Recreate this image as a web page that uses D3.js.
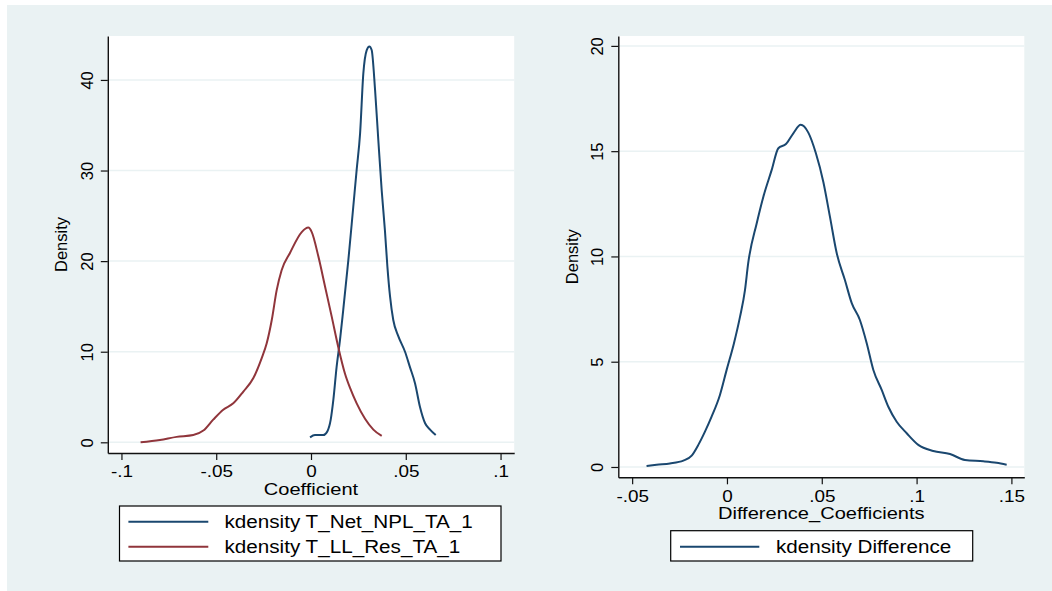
<!DOCTYPE html>
<html>
<head>
<meta charset="utf-8">
<script src="https://cdn.jsdelivr.net/npm/d3@7"></script>
<style>
  body { margin: 0; background: #ffffff; }
  text { font-family: "Liberation Sans", Arial, sans-serif; fill: #000; }
</style>
</head>
<body>
<svg id="chart" width="1052" height="591"></svg>
<script>
// kdensity T_Net_NPL_TA_1
var nplX = [-0.0005, 0.0021, 0.0065, 0.0086, 0.0104, 0.0118, 0.0135, 0.0153, 0.017, 0.0197, 0.0223, 0.0241, 0.0259, 0.0276, 0.0294, 0.0308, 0.032, 0.0338, 0.0355, 0.0373, 0.039, 0.0403, 0.0417, 0.0434, 0.0461, 0.0496, 0.0522, 0.0549, 0.0575, 0.0602, 0.0628, 0.0658];
var nplY = [0.55, 0.8, 0.8, 1.2, 2.5, 4.7, 8.3, 11.3, 14.6, 20.1, 26.0, 30.1, 34.1, 40.7, 43.3, 43.7, 43.3, 38.9, 33.4, 27.8, 23.4, 19.4, 16.1, 13.5, 11.7, 10.0, 8.3, 6.5, 3.9, 2.1, 1.4, 0.8];

// kdensity T_LL_Res_TA_1
var llX = [-0.0899, -0.0797, -0.0709, -0.0621, -0.0568, -0.0516, -0.0463, -0.041, -0.0357, -0.0304, -0.026, -0.0234, -0.0207, -0.0181, -0.0155, -0.0111, -0.0049, -0.0014, 0.0004, 0.0039, 0.0074, 0.0109, 0.0144, 0.0179, 0.0206, 0.0241, 0.0285, 0.0329, 0.0373];
var llY = [0, 0.25, 0.6, 0.8, 1.3, 2.5, 3.6, 4.3, 5.6, 7.1, 9.3, 10.9, 13.5, 16.8, 19.0, 20.9, 23.2, 23.7, 23.2, 20.5, 17.2, 13.9, 10.5, 7.6, 6.0, 4.3, 2.6, 1.4, 0.7];

// kdensity Difference
var diffX = [-0.0424, -0.0371, -0.0301, -0.023, -0.0186, -0.0151, -0.0116, -0.0081, -0.0037, -0.0002, 0.0037, 0.0069, 0.0095, 0.0112, 0.0157, 0.0192, 0.0236, 0.0271, 0.0311, 0.035, 0.0389, 0.0429, 0.0469, 0.0508, 0.0543, 0.0579, 0.0622, 0.0658, 0.0701, 0.0737, 0.0772, 0.0816, 0.0851, 0.0895, 0.0948, 0.1009, 0.1088, 0.1176, 0.1255, 0.1352, 0.1422, 0.1475];
var diffY = [0.05, 0.11, 0.17, 0.3, 0.54, 1.05, 1.68, 2.39, 3.42, 4.6, 5.88, 7.14, 8.4, 9.68, 11.58, 12.84, 14.11, 15.14, 15.34, 15.85, 16.25, 15.88, 14.9, 13.55, 11.89, 10.15, 8.88, 7.78, 6.98, 5.88, 4.61, 3.66, 2.86, 2.15, 1.6, 1.05, 0.76, 0.62, 0.33, 0.27, 0.2, 0.11];

var leftXTicks = [-0.1, -0.05, 0, 0.05, 0.1];
var leftXLabels = ["-.1", "-.05", "0", ".05", ".1"];
var leftYTicks = [0, 10, 20, 30, 40];
var rightXTicks = [-0.05, 0, 0.05, 0.1, 0.15];
var rightXLabels = ["-.05", "0", ".05", ".1", ".15"];
var rightYTicks = [0, 5, 10, 15, 20];

var blue = "#1a476f", red = "#90353b", bg = "#eaf2f3";
var stretch = 1.18;   // the stata export is a bit wide

var svg = d3.select("#chart");

svg.append("rect")
  .attr("x", 7).attr("y", 5)
  .attr("width", 1045).attr("height", 586)
  .attr("fill", bg);

function widen(sel) {
  sel.each(function() {
    var w = this.getComputedTextLength();
    d3.select(this)
      .attr("textLength", w * stretch)
      .attr("lengthAdjust", "spacingAndGlyphs");
  });
}

function drawPanel(p) {
  var x = d3.scaleLinear().domain(p.xDomain).range([p.left, p.right]);
  var y = d3.scaleLinear().domain(p.yDomain).range([p.bottom, p.top]);

  svg.append("rect")
    .attr("x", p.left).attr("y", p.top)
    .attr("width", p.right - p.left).attr("height", p.bottom - p.top)
    .attr("fill", "#ffffff");

  // grid
  svg.append("g").selectAll("line")
    .data(p.yTicks)
    .enter().append("line")
    .attr("x1", p.left).attr("x2", p.right)
    .attr("y1", function(d) { return y(d); })
    .attr("y2", function(d) { return y(d); })
    .attr("stroke", bg)
    .attr("stroke-width", 1.5);

  var line = d3.line()
    .x(function(d) { return x(d[0]); })
    .y(function(d) { return y(d[1]); })
    .curve(d3.curveMonotoneX);

  p.series.forEach(function(s) {
    svg.append("path")
      .datum(d3.zip(s.xs, s.ys))
      .attr("fill", "none")
      .attr("stroke", s.color)
      .attr("stroke-width", 2)
      .attr("stroke-linejoin", "round")
      .attr("d", line);
  });

  // x axis
  var xg = svg.append("g")
    .attr("transform", "translate(0," + p.bottom + ")")
    .call(d3.axisBottom(x)
      .tickValues(p.xTicks)
      .tickFormat(function(d, i) { return p.xLabels[i]; })
      .tickSize(7).tickSizeOuter(0).tickPadding(6));
  xg.attr("font-size", null).attr("font-family", null);
  xg.select(".domain").attr("stroke", "#111").attr("stroke-width", 1.4);
  xg.selectAll(".tick line").attr("stroke", "#111").attr("stroke-width", 1.2);
  xg.selectAll("text").style("font-size", "16px");
  widen(xg.selectAll("text"));

  // y axis, labels turned like stata does
  var yg = svg.append("g")
    .attr("transform", "translate(" + p.left + ",0)")
    .call(d3.axisLeft(y)
      .tickValues(p.yTicks)
      .tickSize(7).tickSizeOuter(0));
  yg.attr("font-size", null).attr("font-family", null);
  yg.select(".domain").attr("stroke", "#111").attr("stroke-width", 1.4);
  yg.selectAll(".tick line").attr("stroke", "#111").attr("stroke-width", 1.2);
  yg.selectAll("text")
    .attr("x", 0).attr("dy", 0)
    .attr("transform", "translate(-15,0) rotate(-90)")
    .attr("text-anchor", "middle")
    .style("font-size", "16.5px");

  var xt = svg.append("text")
    .attr("x", (p.left + p.right) / 2)
    .attr("y", p.titleY)
    .attr("text-anchor", "middle")
    .style("font-size", "17px")
    .text(p.xTitle);
  widen(xt);

  svg.append("text")
    .attr("transform", "translate(" + p.densityX + "," + ((p.top + p.bottom) / 2) + ") rotate(-90)")
    .attr("text-anchor", "middle")
    .style("font-size", "16.5px")
    .text("Density");

  // legend
  var lg = p.legend;
  svg.append("rect")
    .attr("x", lg.x).attr("y", lg.y)
    .attr("width", lg.w).attr("height", lg.h)
    .attr("fill", "#ffffff")
    .attr("stroke", "#000")
    .attr("stroke-width", 1.2);

  p.series.forEach(function(s, i) {
    var ly = lg.rowY[i];
    svg.append("line")
      .attr("x1", lg.lineX1).attr("x2", lg.lineX2)
      .attr("y1", ly).attr("y2", ly)
      .attr("stroke", s.color)
      .attr("stroke-width", 2);
    var t = svg.append("text")
      .attr("x", lg.textX)
      .attr("y", ly + 6.5)
      .style("font-size", "17.5px")
      .text(s.label);
    widen(t);
  });
}

drawPanel({
  left: 107.8, right: 514.2, top: 36, bottom: 453,
  xDomain: [-0.1072, 0.1072], yDomain: [-1.18, 44.85],
  xTicks: leftXTicks, xLabels: leftXLabels, yTicks: leftYTicks,
  xTitle: "Coefficient", titleY: 495, densityX: 67,
  series: [
    {xs: nplX, ys: nplY, color: blue, label: "kdensity T_Net_NPL_TA_1"},
    {xs: llX, ys: llY, color: red, label: "kdensity T_LL_Res_TA_1"}
  ],
  legend: {x: 119.5, y: 506, w: 381.5, h: 55, lineX1: 128.4, lineX2: 208.3, textX: 224.5, rowY: [521.7, 546.7]}
});

drawPanel({
  left: 618.3, right: 1024.3, top: 36, bottom: 477.3,
  xDomain: [-0.0573, 0.1568], yDomain: [-0.49, 20.47],
  xTicks: rightXTicks, xLabels: rightXLabels, yTicks: rightYTicks,
  xTitle: "Difference_Coefficients", titleY: 519, densityX: 578,
  series: [
    {xs: diffX, ys: diffY, color: blue, label: "kdensity Difference"}
  ],
  legend: {x: 670.7, y: 530.7, w: 302, h: 30.3, lineX1: 680, lineX2: 759.3, textX: 776, rowY: [546.7]}
});
</script>
</body>
</html>
